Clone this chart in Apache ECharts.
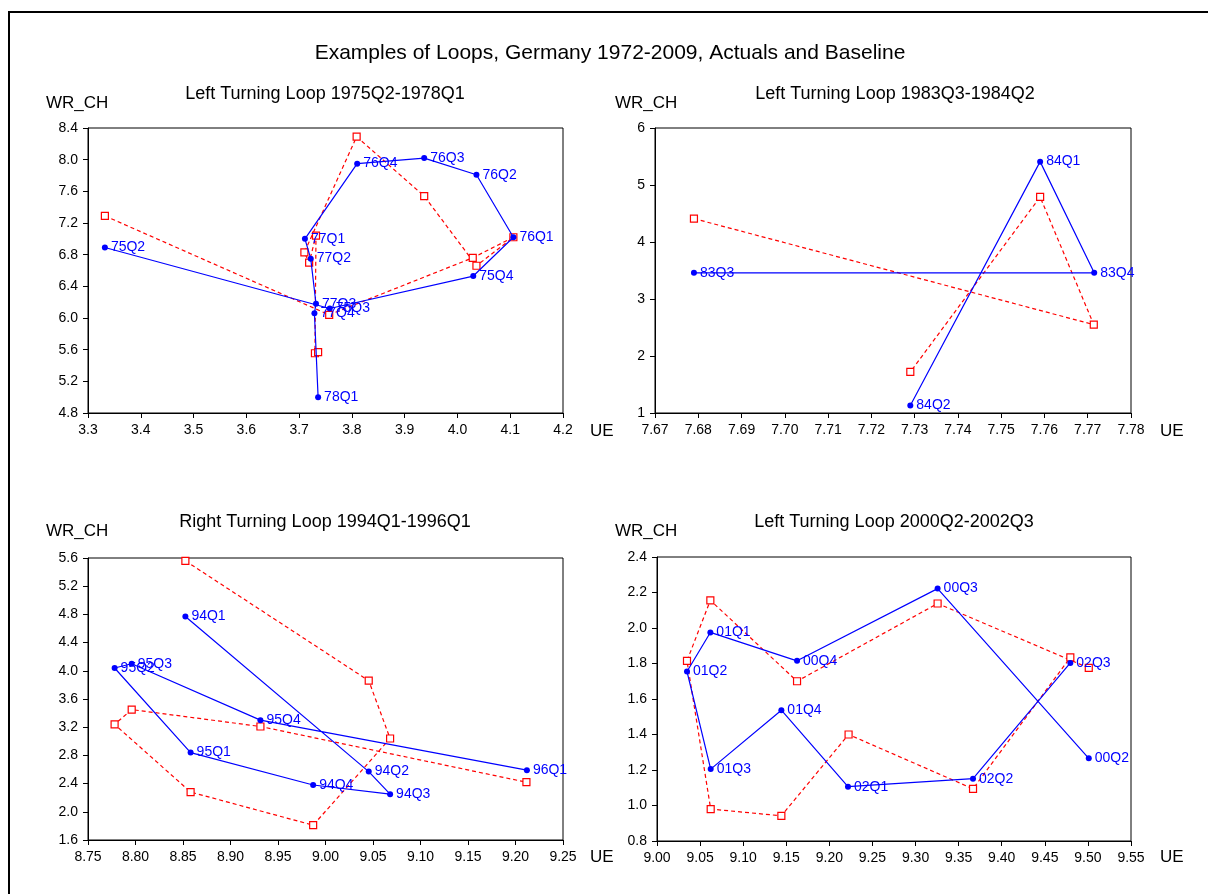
<!DOCTYPE html>
<html>
<head>
<meta charset="utf-8">
<script src="https://cdn.jsdelivr.net/npm/echarts@6/dist/echarts.min.js"></script>
<style>
html,body{margin:0;padding:0;background:#fff;}
#chart{width:1208px;height:894px;}
</style>
</head>
<body>
<div id="chart"></div>
<script>
// ---------- DATA ----------
const mainTitle = 'Examples of Loops, Germany 1972-2009, Actuals and Baseline';
const panelTitles = ['Left Turning Loop 1975Q2-1978Q1','Left Turning Loop 1983Q3-1984Q2','Right Turning Loop 1994Q1-1996Q1','Left Turning Loop 2000Q2-2002Q3'];

// Panel 1
const p1Labels = ['75Q2','75Q3','75Q4','76Q1','76Q2','76Q3','76Q4','77Q1','77Q2','77Q3','77Q4','78Q1'];
const p1ActX = [3.332,3.758,4.030,4.106,4.036,3.937,3.810,3.711,3.722,3.732,3.729,3.736];
const p1ActY = [6.89,6.12,6.53,7.02,7.81,8.02,7.95,7.00,6.75,6.18,6.06,5.00];
const p1BaseX = [3.332,3.757,4.029,4.106,4.036,3.937,3.809,3.710,3.719,3.732,3.730,3.736];
const p1BaseY = [7.29,6.04,6.76,7.02,6.66,7.54,8.29,6.83,6.70,7.04,5.555,5.57];

// Panel 2
const p2Labels = ['83Q3','83Q4','84Q1','84Q2'];
const p2ActX = [7.679,7.7715,7.759,7.729];
const p2ActY = [3.46,3.46,5.41,1.13];
const p2BaseX = [7.679,7.7714,7.759,7.729];
const p2BaseY = [4.41,2.55,4.79,1.72];

// Panel 3
const p3Labels = ['94Q1','94Q2','94Q3','94Q4','95Q1','95Q2','95Q3','95Q4','96Q1'];
const p3ActX = [8.8525,9.0455,9.068,8.987,8.858,8.778,8.796,8.9315,9.212];
const p3ActY = [4.77,2.57,2.25,2.38,2.84,4.04,4.10,3.30,2.59];
const p3BaseX = [8.8525,9.0455,9.068,8.987,8.858,8.778,8.796,8.9315,9.2115];
const p3BaseY = [5.56,3.86,3.04,1.81,2.28,3.24,3.45,3.21,2.42];

// Panel 4
const p4Labels = ['00Q2','00Q3','00Q4','01Q1','01Q2','01Q3','01Q4','02Q1','02Q2','02Q3'];
const p4ActX = [9.501,9.3256,9.1625,9.0619,9.0348,9.0623,9.1443,9.2216,9.3667,9.4796];
const p4ActY = [1.266,2.222,1.815,1.975,1.755,1.205,1.537,1.106,1.151,1.803];
const p4BaseX = [9.501,9.3256,9.1625,9.0619,9.0348,9.0623,9.1443,9.2223,9.3667,9.4796];
const p4BaseY = [1.775,2.138,1.70,2.156,1.815,0.980,0.942,1.40,1.094,1.834];

// Axis ranges: [min, max, interval, decimals]
const xRanges = [[3.3,4.2,0.1,1],[7.67,7.78,0.01,2],[8.75,9.25,0.05,2],[9.00,9.55,0.05,2]];
const yRanges = [[4.8,8.4,0.4,1],[1,6,1,0],[1.6,5.6,0.4,1],[0.8,2.4,0.2,1]];

// ---------- LAYOUT ----------
const FONT = '"Liberation Sans", Arial, sans-serif';
const BLUE = '#0000ff';
const RED = '#ff0000';
const grids = [
  {left:88, top:128, width:475, height:285},
  {left:655, top:128, width:476, height:285},
  {left:88, top:558, width:475, height:282},
  {left:657, top:557, width:474, height:284}
];

const panels = [
  {labels:p1Labels, ax:p1ActX, ay:p1ActY, bx:p1BaseX, by:p1BaseY},
  {labels:p2Labels, ax:p2ActX, ay:p2ActY, bx:p2BaseX, by:p2BaseY},
  {labels:p3Labels, ax:p3ActX, ay:p3ActY, bx:p3BaseX, by:p3BaseY},
  {labels:p4Labels, ax:p4ActX, ay:p4ActY, bx:p4BaseX, by:p4BaseY}
];

function axisCommon(){
  return {
    axisLine:{show:true, onZero:false, lineStyle:{color:'#000', width:1}},
    axisTick:{show:true, inside:false, length:5, lineStyle:{color:'#000'}},
    splitLine:{show:false},
  };
}

const xAxes = xRanges.map((r,i)=>Object.assign(axisCommon(),{
  type:'value', gridIndex:i, min:r[0], max:r[1], interval:r[2],
  axisLabel:{show:true, margin:10, color:'#000', fontFamily:FONT, fontSize:14,
    formatter:v=>Number(v).toFixed(r[3]), showMinLabel:true, showMaxLabel:true, hideOverlap:false}
}));
const yAxes = yRanges.map((r,i)=>Object.assign(axisCommon(),{
  type:'value', gridIndex:i, min:r[0], max:r[1], interval:r[2],
  axisLabel:{show:true, margin:10, color:'#000', fontFamily:FONT, fontSize:14,
    formatter:v=>Number(v).toFixed(r[3]), showMinLabel:true, showMaxLabel:true, hideOverlap:false}
}));

const series = [];
panels.forEach((p,i)=>{
  series.push({
    type:'line', xAxisIndex:i, yAxisIndex:i, z:2,
    data:p.bx.map((x,k)=>[x,p.by[k]]),
    symbol:'rect', symbolSize:7, showSymbol:true,
    itemStyle:{color:'#fff', borderColor:RED, borderWidth:1.2},
    lineStyle:{color:RED, width:1.2, type:[4,3]},
    label:{show:false}, emphasis:{disabled:true}, silent:true
  });
  series.push({
    type:'line', xAxisIndex:i, yAxisIndex:i, z:3,
    data:p.ax.map((x,k)=>({name:p.labels[k], value:[x,p.ay[k]]})),
    symbol:'circle', symbolSize:6, showSymbol:true,
    itemStyle:{color:BLUE},
    lineStyle:{color:BLUE, width:1.2},
    label:{show:true, position:'right', distance:3, formatter:'{b}', color:BLUE,
      fontFamily:FONT, fontSize:14},
    labelLayout:{hideOverlap:false},
    emphasis:{disabled:true}, silent:true
  });
});

const titlePos = [[325,94],[895,94],[325,522],[894,522]];
const wrPos = [[46,103],[615,103],[46,531],[615,531]];
const uePos = [[590,431],[1160,431],[590,857],[1160,857]];

const graphics = [
  {type:'rect', shape:{x:9,y:12,width:1400,height:1000}, style:{fill:'none', stroke:'#000', lineWidth:2}, silent:true},
  {type:'text', x:610, y:53, style:{text:mainTitle, font:'21px '+FONT, fill:'#000', textAlign:'center', textVerticalAlign:'middle'}}
];
panelTitles.forEach((t,i)=>{
  graphics.push({type:'text', x:titlePos[i][0], y:titlePos[i][1], style:{text:t, font:'18px '+FONT, fill:'#000', textAlign:'center', textVerticalAlign:'middle'}});
  graphics.push({type:'text', x:wrPos[i][0], y:wrPos[i][1], style:{text:'WR_CH', font:'17px '+FONT, fill:'#000', textAlign:'left', textVerticalAlign:'middle'}});
  graphics.push({type:'text', x:uePos[i][0], y:uePos[i][1], style:{text:'UE', font:'17px '+FONT, fill:'#000', textAlign:'left', textVerticalAlign:'middle'}});
});

const chart = echarts.init(document.getElementById('chart'), null, {renderer:'canvas'});
chart.setOption({
  animation:false,
  backgroundColor:'#fff',
  grid:grids.map(g=>Object.assign({show:true, borderColor:'#000', borderWidth:1, backgroundColor:'transparent', containLabel:false}, g)),
  xAxis:xAxes,
  yAxis:yAxes,
  series:series,
  graphic:graphics
});
</script>
</body>
</html>
